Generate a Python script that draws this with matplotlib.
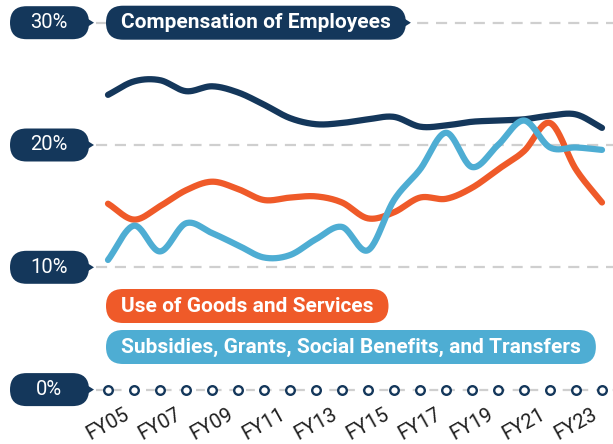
import numpy as np
import matplotlib
matplotlib.use("Agg")
import matplotlib.pyplot as plt
from matplotlib.patches import FancyBboxPatch, Polygon
from matplotlib.transforms import IdentityTransform, blended_transform_factory

# share of spending, FY05 -> FY24
years = ["FY%02d" % y for y in range(5, 25)]
compensation = [24.1, 25.2, 25.3, 24.4, 24.8, 24.3, 23.3, 22.2, 21.7, 21.8,
                22.1, 22.3, 21.5, 21.6, 21.9, 22.0, 22.1, 22.4, 22.5, 21.4]
goods_services = [15.2, 13.9, 15.0, 16.3, 17.0, 16.4, 15.5, 15.7, 15.8, 15.3,
                  14.0, 14.5, 15.7, 15.6, 16.5, 18.0, 19.5, 21.8, 18.0, 15.3]
subsidies = [10.6, 13.4, 11.3, 13.6, 12.8, 11.8, 10.8, 11.0, 12.3, 13.3,
             11.4, 15.5, 18.0, 21.0, 18.2, 20.0, 22.0, 19.8, 19.8, 19.6]
y_ticks = [0, 10, 20, 30]
tick_labels = ["0%", "10%", "20%", "30%"]
label_comp = "Compensation of Employees"
label_goods = "Use of Goods and Services"
label_subs = "Subsidies, Grants, Social Benefits, and Transfers"

NAVY = "#14375b"
ORANGE = "#ef5a29"
BLUE = "#4eadd3"
GRID = "#cfcfcf"
FONT = ["Roboto", "DejaVu Sans"]

W, H = 613, 444


def smooth(vals, n=24):
    # catmull-rom through the yearly points, only for the curved look
    y = np.asarray(vals, float)
    p = np.concatenate([[2 * y[0] - y[1]], y, [2 * y[-1] - y[-2]]])
    t = np.linspace(0, 1, n, endpoint=False)
    xs, ys = [], []
    for i in range(len(y) - 1):
        p0, p1, p2, p3 = p[i], p[i + 1], p[i + 2], p[i + 3]
        seg = 0.5 * (2 * p1 + (-p0 + p2) * t + (2 * p0 - 5 * p1 + 4 * p2 - p3) * t ** 2
                     + (-p0 + 3 * p1 - 3 * p2 + p3) * t ** 3)
        xs.append(i + t)
        ys.append(seg)
    xs.append([len(y) - 1])
    ys.append([y[-1]])
    return np.concatenate(xs), np.concatenate(ys)


fig = plt.figure(figsize=(W / 100, H / 100), dpi=100)
ax = fig.add_axes([0, 0, 1, 1])
ax.set_xlim(-108 / 26, len(years) - 1 + 11 / 26)
ax.set_ylim((389.6 - H) / 12.23, 389.6 / 12.23)
ax.axis("off")

px = IdentityTransform()


def pill(x0, cy, w, h, color, pointer=False, z=6):
    box = FancyBboxPatch((x0, cy - h / 2), w, h,
                         boxstyle="round,pad=0,rounding_size=%f" % (h / 2),
                         fc=color, ec="none", transform=px, zorder=z, clip_on=False)
    ax.add_patch(box)
    if pointer:
        x1 = x0 + w
        tri = Polygon([(x1 - h * 0.45, cy + h * 0.38), (x1 + 5, cy),
                       (x1 - h * 0.45, cy - h * 0.38)],
                      closed=True, fc=color, ec="none", transform=px, zorder=z,
                      clip_on=False)
        ax.add_patch(tri)


# gridlines
for v in y_ticks[1:]:
    ax.axhline(v, xmin=96 / W, xmax=1, color=GRID, lw=1.6, dashes=(5, 3.5), zorder=1)
ax.axhline(0, xmin=96 / W, xmax=1, color=GRID, lw=1.6, dashes=(4, 3.5), zorder=1)
ax.plot(range(len(years)), [0] * len(years), ls="none", marker="o", ms=6.2,
        mfc="white", mec=NAVY, mew=1.7, zorder=3)

# lines
for vals, col, z in [(goods_services, ORANGE, 2), (compensation, NAVY, 3), (subsidies, BLUE, 4)]:
    sx, sy = smooth(vals)
    ax.plot(sx, sy, color=col, lw=4.5, solid_capstyle="round", zorder=z)

# y tick pills
for v, lab in zip(y_ticks, tick_labels):
    cy = ax.transData.transform((0, v))[1]
    pill(10, cy, 79, 33, NAVY, pointer=True)
    ax.text(49, cy, lab, transform=px, color="white", fontsize=14.5, family=FONT,
            ha="center", va="center", zorder=7)

# series labels in pills
renderer = fig.canvas.get_renderer()
cy30 = ax.transData.transform((0, 30))[1]
for lab, col, cy, ptr in [(label_comp, NAVY, cy30, True),
                          (label_goods, ORANGE, H - 306, False),
                          (label_subs, BLUE, H - 347, False)]:
    t = ax.text(121, cy, lab, transform=px, color="white", fontsize=15, family=FONT,
                fontweight="bold", ha="left", va="center", zorder=8)
    bb = t.get_window_extent(renderer)
    pill(106, cy, bb.x1 - 106 + 15, 34, col, pointer=ptr, z=7)

# x labels
xtr = blended_transform_factory(ax.transData, px)
for i, lab in enumerate(years):
    if i % 2 == 0:
        ax.text(i, H - 424, lab, transform=xtr, rotation=29, rotation_mode="anchor",
                ha="center", va="center", fontsize=14.5, family=FONT, color="#1e1e1e")

fig.savefig("out.png", dpi=100)
